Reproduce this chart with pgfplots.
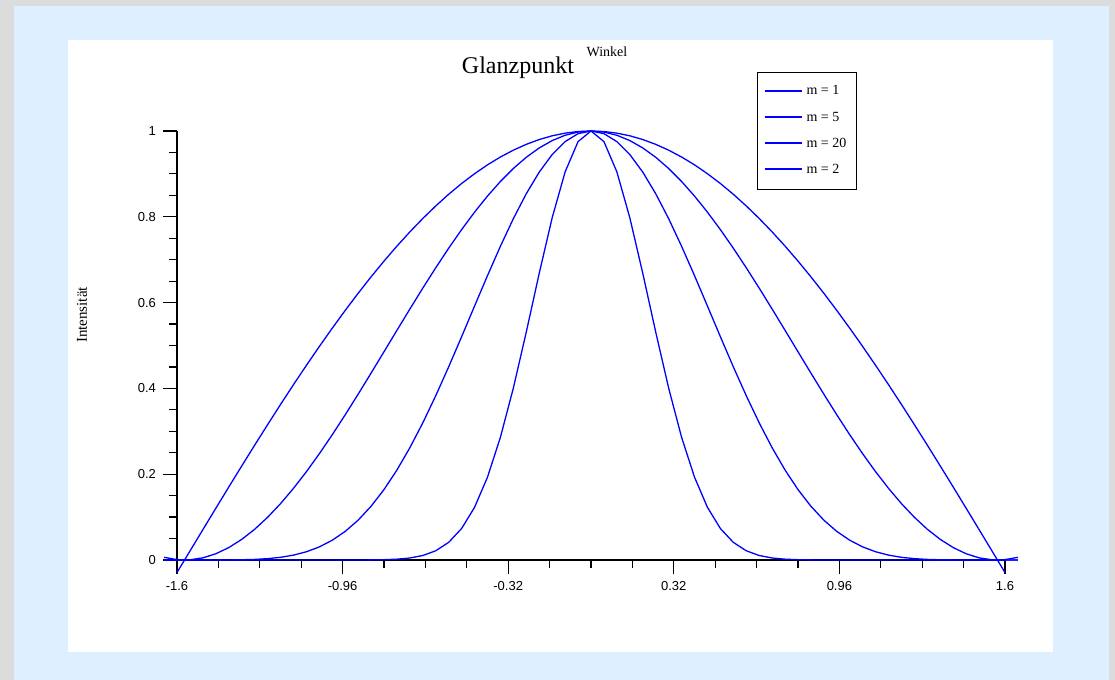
\documentclass[border=0pt]{standalone}
\usepackage{fontspec}
\setmainfont{Liberation Serif}
\newfontfamily\tickfont{Liberation Sans}
\usepackage{pgfplots}
\usepackage{pgfplotstable}
\pgfplotsset{compat=1.18}

\definecolor{bggray}{RGB}{220,220,220}
\definecolor{bgblue}{RGB}{222,240,255}
\definecolor{curve}{RGB}{0,0,255}

% Glanzpunkt: Intensitaet ueber Winkel fuer m = 1, 2, 5, 20
\pgfplotstableread{
x      m1      m2       m5        m20
-1.65  nan     0.00626  0         0
-1.60  -0.0292 0.00085  0         0
-1.55  0.0208  0.00043  0         0
-1.50  0.0707  0.00500  0.000002  0
-1.45  0.1205  0.01452  0.000025  0
-1.40  0.1700  0.02889  0.00014   0
-1.35  0.2190  0.04796  0.00050   0
-1.30  0.2675  0.07156  0.00137   0
-1.25  0.3153  0.09943  0.00312   0
-1.20  0.3624  0.13130  0.00625   0
-1.15  0.4085  0.16686  0.01137   0
-1.10  0.4536  0.20575  0.01920   0
-1.05  0.4976  0.24758  0.03050   0
-1.00  0.5403  0.29193  0.04605   0
-0.95  0.5817  0.33836  0.06659   0.00002
-0.90  0.6216  0.38640  0.09281   0.00007
-0.85  0.6600  0.43558  0.12522   0.00025
-0.80  0.6967  0.48540  0.16415   0.00073
-0.75  0.7317  0.53537  0.20972   0.00193
-0.70  0.7648  0.58498  0.26173   0.00469
-0.65  0.7961  0.63375  0.31974   0.01045
-0.60  0.8253  0.68118  0.38296   0.02151
-0.55  0.8525  0.72680  0.45034   0.04113
-0.50  0.8776  0.77015  0.52052   0.07341
-0.45  0.9004  0.81081  0.59196   0.12279
-0.40  0.9211  0.84835  0.66289   0.19309
-0.35  0.9394  0.88242  0.73146   0.28626
-0.30  0.9553  0.91267  0.79576   0.40098
-0.25  0.9689  0.93879  0.85393   0.53173
-0.20  0.9801  0.96053  0.90423   0.66852
-0.15  0.9888  0.97767  0.94510   0.79784
-0.10  0.9950  0.99003  0.97527   0.90468
-0.05  0.9988  0.99750  0.99377   0.97530
0.00   1       1        1         1
0.05   0.9988  0.99750  0.99377   0.97530
0.10   0.9950  0.99003  0.97527   0.90468
0.15   0.9888  0.97767  0.94510   0.79784
0.20   0.9801  0.96053  0.90423   0.66852
0.25   0.9689  0.93879  0.85393   0.53173
0.30   0.9553  0.91267  0.79576   0.40098
0.35   0.9394  0.88242  0.73146   0.28626
0.40   0.9211  0.84835  0.66289   0.19309
0.45   0.9004  0.81081  0.59196   0.12279
0.50   0.8776  0.77015  0.52052   0.07341
0.55   0.8525  0.72680  0.45034   0.04113
0.60   0.8253  0.68118  0.38296   0.02151
0.65   0.7961  0.63375  0.31974   0.01045
0.70   0.7648  0.58498  0.26173   0.00469
0.75   0.7317  0.53537  0.20972   0.00193
0.80   0.6967  0.48540  0.16415   0.00073
0.85   0.6600  0.43558  0.12522   0.00025
0.90   0.6216  0.38640  0.09281   0.00007
0.95   0.5817  0.33836  0.06659   0.00002
1.00   0.5403  0.29193  0.04605   0
1.05   0.4976  0.24758  0.03050   0
1.10   0.4536  0.20575  0.01920   0
1.15   0.4085  0.16686  0.01137   0
1.20   0.3624  0.13130  0.00625   0
1.25   0.3153  0.09943  0.00312   0
1.30   0.2675  0.07156  0.00137   0
1.35   0.2190  0.04796  0.00050   0
1.40   0.1700  0.02889  0.00014   0
1.45   0.1205  0.01452  0.000025  0
1.50   0.0707  0.00500  0.000002  0
1.55   0.0208  0.00043  0         0
1.60   -0.0292 0.00085  0         0
1.65   nan     0.00626  0         0
}\glanz

\begin{document}
\begin{tikzpicture}[x=1pt,y=1pt]
% Hintergrund
\fill[bggray] (0,0) rectangle (557.5,340);
\fill[bgblue] (7,0) rectangle (554.5,337);
\fill[white] (34,14) rectangle (526.5,320);

\begin{axis}[
    at={(88.5pt,60pt)}, anchor=south west,
    scale only axis,
    width=414pt, height=214.5pt,
    xmin=-1.6, xmax=1.6, ymin=0, ymax=1,
    clip=false,
    unbounded coords=discard,
    axis x line=bottom, axis y line=left,
    axis line style={-, black, line width=0.6pt},
    tick style={black, line width=0.6pt},
    tick align=outside,
    major tick length=7pt, minor tick length=4pt,
    xtick={-1.6,-0.96,-0.32,0.32,0.96,1.6},
    ytick={0,0.2,0.4,0.6,0.8,1},
    minor x tick num=3, minor y tick num=3,
    /pgf/number format/assume math mode=true,
    tick label style={font=\tickfont\fontsize{6.5}{7}\selectfont},
    title={Glanzpunkt},
    title style={at={(axis description cs:0.4118,1.1189)}, anchor=center,
        font=\fontsize{12}{14}\selectfont},
    xlabel={Winkel},
    xlabel style={at={(axis description cs:0.5193,1.1841)}, anchor=center,
        font=\fontsize{7}{8}\selectfont},
    ylabel={Intensität},
    ylabel style={at={(axis description cs:-0.1147,0.5711)}, anchor=center,
        font=\fontsize{7.5}{8}\selectfont},
    legend style={at={(axis description cs:0.7005,1.1375)}, anchor=north west,
        draw=black, line width=0.6pt, fill=white,
        font=\fontsize{7}{8}\selectfont,
        inner xsep=3pt, inner ysep=4.5pt, row sep=3pt},
    legend cell align=left,
    legend image code/.code={\draw[draw=curve, line width=1pt] (0pt,0.5pt) -- (18.5pt,0.5pt);},
]
\addplot[curve, line width=0.65pt] table[x=x, y=m1] {\glanz};
\addplot[curve, line width=0.65pt] table[x=x, y=m5] {\glanz};
\addplot[curve, line width=0.65pt] table[x=x, y=m20] {\glanz};
\addplot[curve, line width=0.65pt] table[x=x, y=m2] {\glanz};
\legend{m = 1, m = 5, m = 20, m = 2}
\end{axis}
\end{tikzpicture}
\end{document}
